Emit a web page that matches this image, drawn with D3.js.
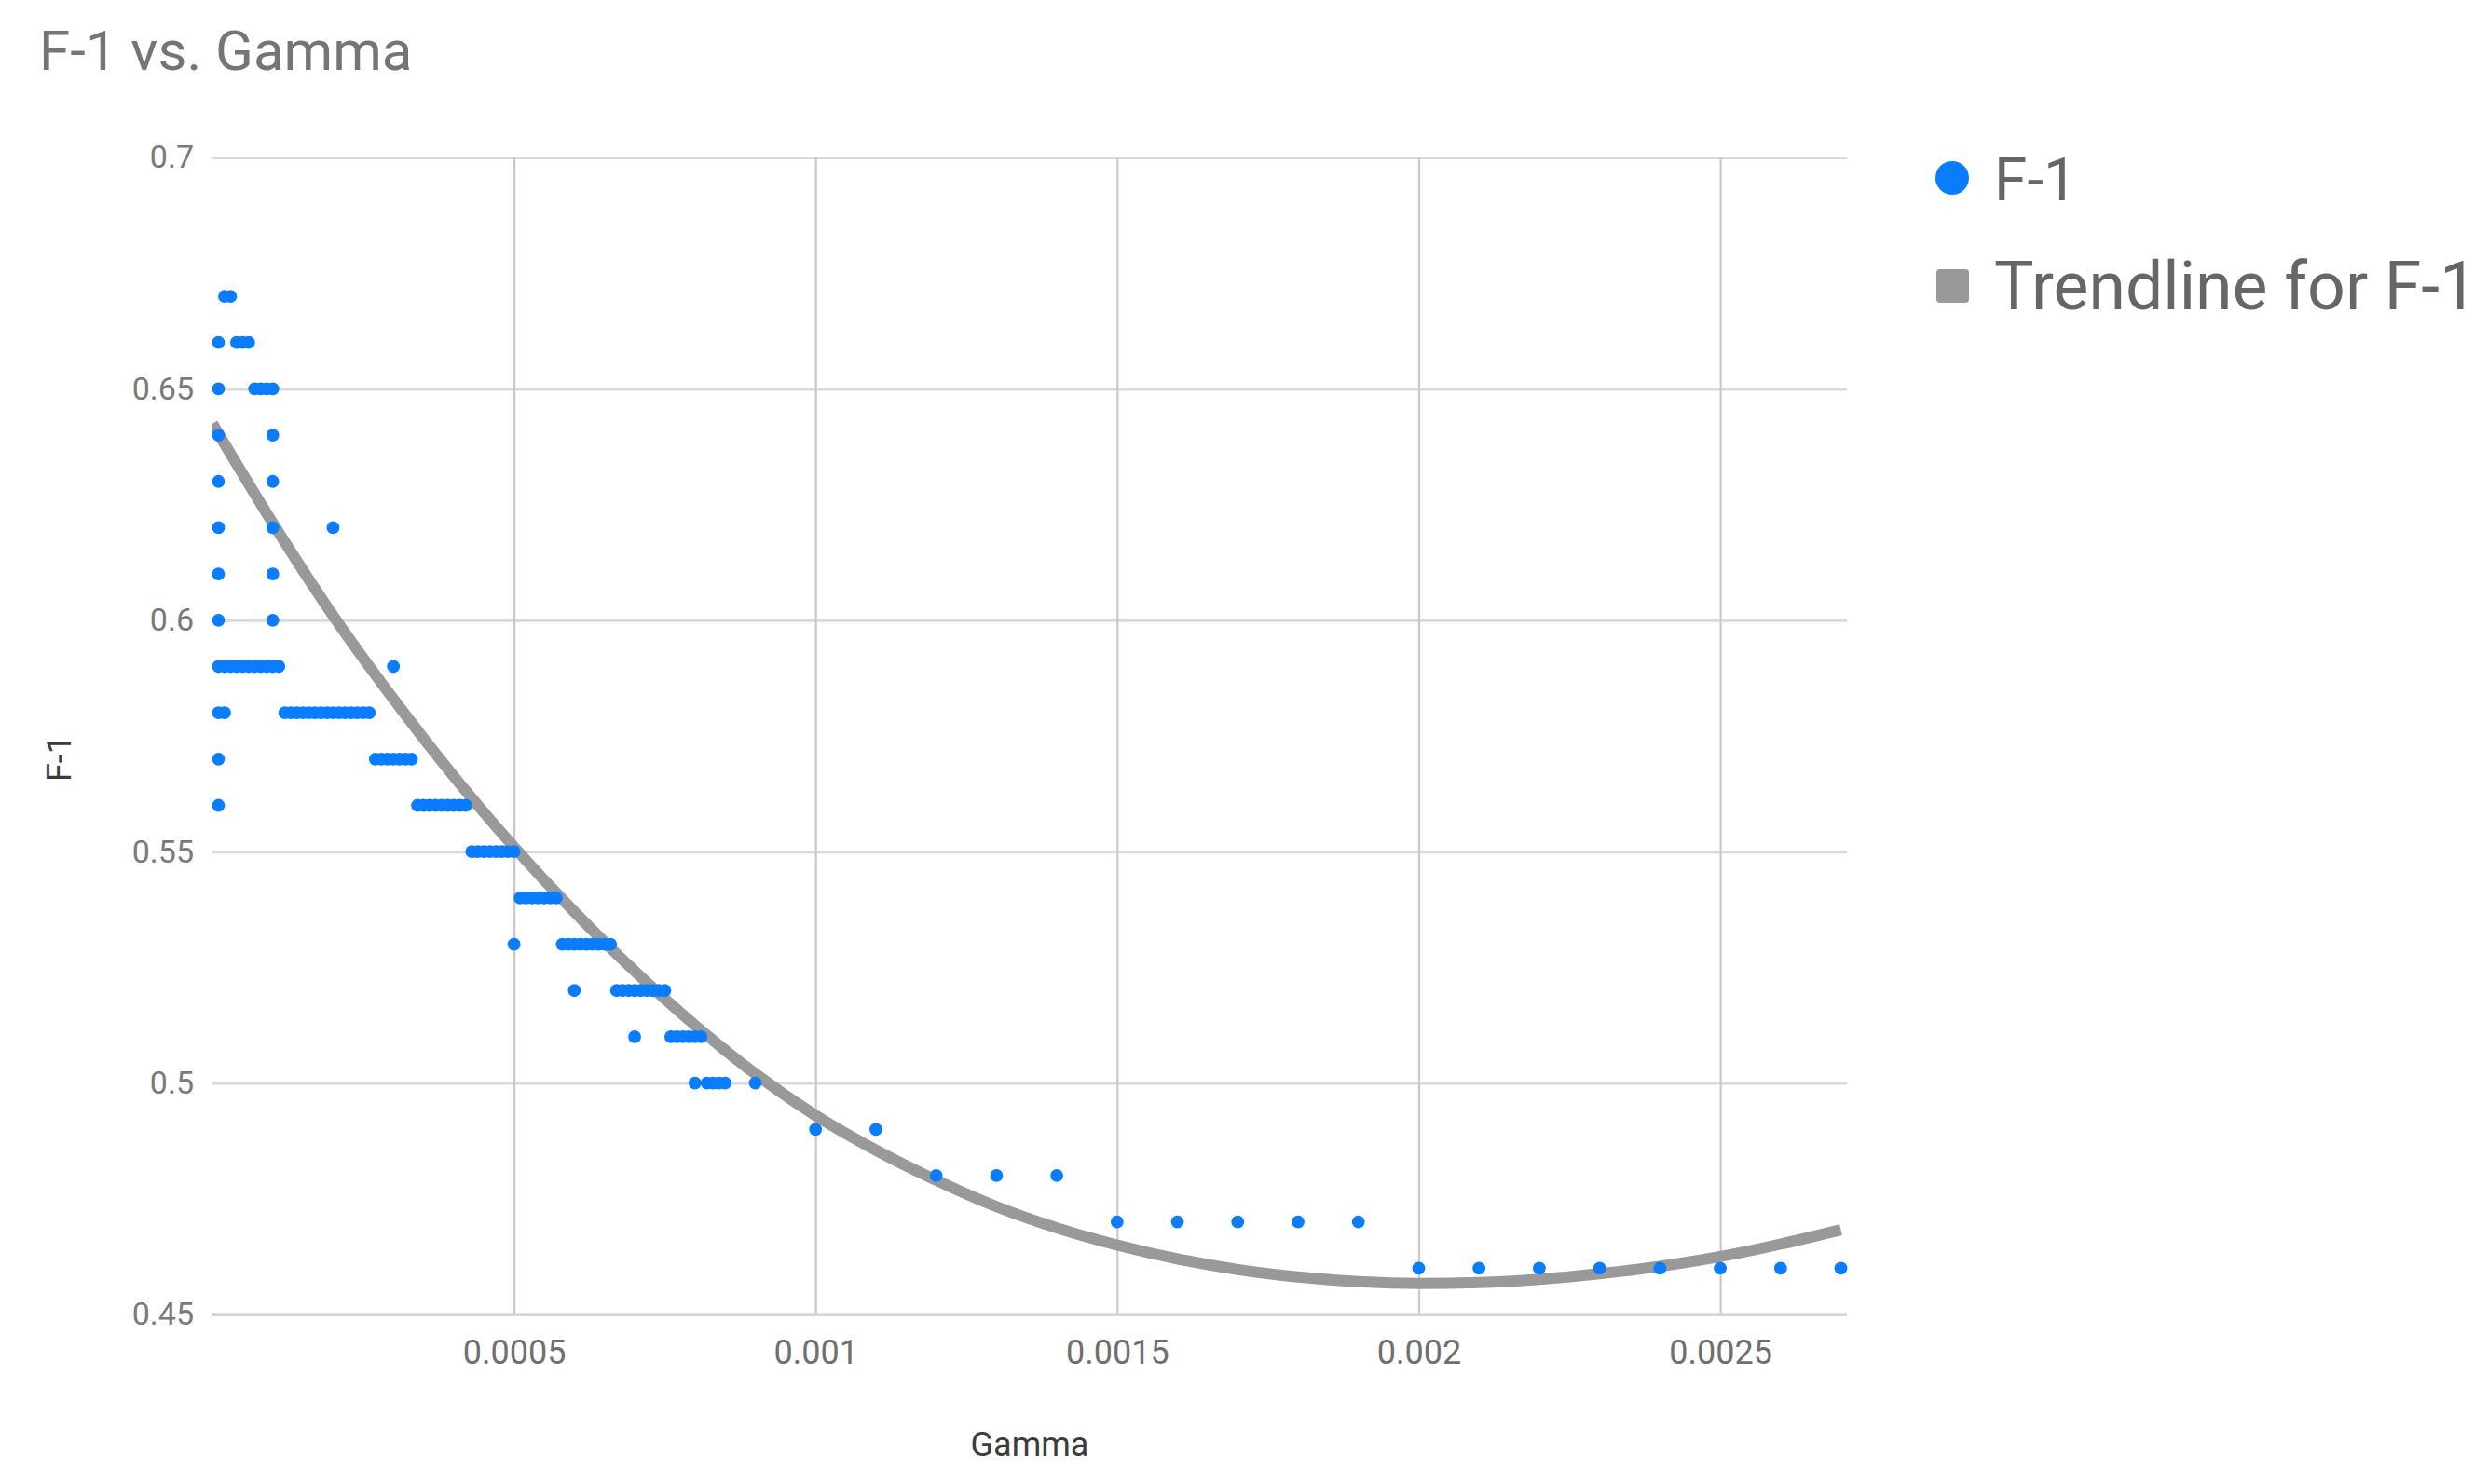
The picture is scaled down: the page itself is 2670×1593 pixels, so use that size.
<!DOCTYPE html>
<html>
<head>
<meta charset="utf-8">
<script src="https://cdn.jsdelivr.net/npm/d3@7"></script>
<style>
  html, body { margin: 0; padding: 0; background: #fff; }
  svg { display: block; font-family: Roboto, "Noto Sans", sans-serif; }
</style>
</head>
<body>
<script>
// ---------------- data ----------------
const chartTitle = "F-1 vs. Gamma";
const xAxisTitle = "Gamma";
const yAxisTitle = "F-1";
const seriesName = "F-1";
const trendName = "Trendline for F-1";

// F-1 levels (one row of points per level) and the Gamma values of the points on each row
const f1Levels = [0.67, 0.66, 0.65, 0.64, 0.63, 0.62, 0.61, 0.60, 0.59, 0.58, 0.57,
                  0.56, 0.55, 0.54, 0.53, 0.52, 0.51, 0.50, 0.49, 0.48, 0.47, 0.46];
const gammaRows = [
  [0.00002, 0.00003],
  [0.00001, 0.00004, 0.00005, 0.00006],
  [0.00001, 0.00007, 0.00008, 0.00009, 0.0001],
  [0.00001, 0.0001],
  [0.00001, 0.0001],
  [0.00001, 0.0001, 0.0002],
  [0.00001, 0.0001],
  [0.00001, 0.0001],
  [0.00001, 0.00002, 0.00003, 0.00004, 0.00005, 0.00006, 0.00007, 0.00008, 0.00009, 0.0001, 0.00011, 0.0003],
  [0.00001, 0.00002, 0.00012, 0.00013, 0.00014, 0.00015, 0.00016, 0.00017, 0.00018, 0.00019, 0.0002,
   0.00021, 0.00022, 0.00023, 0.00024, 0.00025, 0.00026],
  [0.00001, 0.00027, 0.00028, 0.00029, 0.0003, 0.00031, 0.00032, 0.00033],
  [0.00001, 0.00034, 0.00035, 0.00036, 0.00037, 0.00038, 0.00039, 0.0004, 0.00041, 0.00042],
  [0.00043, 0.00044, 0.00045, 0.00046, 0.00047, 0.00048, 0.00049, 0.0005],
  [0.00051, 0.00052, 0.00053, 0.00054, 0.00055, 0.00056, 0.00057],
  [0.0005, 0.00058, 0.00059, 0.0006, 0.00061, 0.00062, 0.00063, 0.00064, 0.00065, 0.00066],
  [0.0006, 0.00067, 0.00068, 0.00069, 0.0007, 0.00071, 0.00072, 0.00073, 0.00074, 0.00075],
  [0.0007, 0.00076, 0.00077, 0.00078, 0.00079, 0.0008, 0.00081],
  [0.0008, 0.00082, 0.00083, 0.00084, 0.00085, 0.0009],
  [0.001, 0.0011],
  [0.0012, 0.0013, 0.0014],
  [0.0015, 0.0016, 0.0017, 0.0018, 0.0019],
  [0.002, 0.0021, 0.0022, 0.0023, 0.0024, 0.0025, 0.0026, 0.0027]
];

// trendline
const trendGamma = [0, 0.0001, 0.0002, 0.0003, 0.0004, 0.0005, 0.0006, 0.0007, 0.0008, 0.0009,
                    0.001, 0.0011, 0.0012, 0.0013, 0.0014, 0.0015, 0.0016, 0.0017, 0.0018, 0.0019,
                    0.002, 0.0021, 0.0022, 0.0023, 0.0024, 0.0025, 0.0026, 0.0027];
const trendF1 = [0.6425, 0.621, 0.601, 0.583, 0.5663, 0.551, 0.537, 0.5242, 0.5125, 0.502,
                 0.493, 0.4855, 0.479, 0.4733, 0.4687, 0.465, 0.462, 0.4597, 0.4581, 0.4571,
                 0.4567, 0.4569, 0.4576, 0.4588, 0.4604, 0.4625, 0.4652, 0.4683];

const xTickValues = [0.0005, 0.001, 0.0015, 0.002, 0.0025];
const xTickLabels = ["0.0005", "0.001", "0.0015", "0.002", "0.0025"];
const yTickValues = [0.45, 0.5, 0.55, 0.6, 0.65, 0.7];
const yTickLabels = ["0.45", "0.5", "0.55", "0.6", "0.65", "0.7"];

// ---------------- layout ----------------
const W = 2670, H = 1593;
const plot = { left: 228, right: 1982, top: 169, bottom: 1411 };
const dotColor = "#0a7cff";
const trendColor = "#999999";

const svg = d3.select("body").append("svg").attr("width", W).attr("height", H);

const x = d3.scaleLinear().domain([0, 0.00271]).range([plot.left, plot.right]);
const y = d3.scaleLinear().domain([0.45, 0.7]).range([plot.bottom, plot.top]);

// title
svg.append("text")
  .attr("x", 42).attr("y", 75)
  .attr("font-size", 60).attr("fill", "#757575")
  .text(chartTitle);

// horizontal gridlines + y tick labels
const yAxis = d3.axisLeft(y)
  .tickValues(yTickValues)
  .tickFormat((d, i) => yTickLabels[i])
  .tickSize(-(plot.right - plot.left))
  .tickPadding(20);
const gy = svg.append("g").attr("transform", `translate(${plot.left},0)`).call(yAxis);
gy.select(".domain").remove();
gy.selectAll(".tick line").attr("stroke", "#dadada").attr("stroke-width", 3);
gy.selectAll(".tick text").attr("font-size", 34).attr("fill", "#7a7a7a")
  .attr("font-family", "Roboto, sans-serif");

// vertical gridlines + x tick labels
const xAxis = d3.axisBottom(x)
  .tickValues(xTickValues)
  .tickFormat((d, i) => xTickLabels[i])
  .tickSize(-(plot.bottom - plot.top))
  .tickPadding(27);
const gx = svg.append("g").attr("transform", `translate(0,${plot.bottom})`).call(xAxis);
gx.select(".domain").remove();
gx.selectAll(".tick line").attr("stroke", "#c9c9c9").attr("stroke-width", 2.2);
gx.selectAll(".tick text").attr("font-size", 36).attr("fill", "#6f6f6f")
  .attr("font-family", "Roboto, sans-serif");

// baseline (0.45) drawn over the vertical gridlines
svg.append("line")
  .attr("x1", plot.left).attr("x2", plot.right)
  .attr("y1", y(0.45)).attr("y2", y(0.45))
  .attr("stroke", "#d4d4d4").attr("stroke-width", 3.5);

// axis titles
svg.append("text")
  .attr("x", (plot.left + plot.right) / 2).attr("y", 1563)
  .attr("text-anchor", "middle").attr("font-size", 36).attr("fill", "#3c3c3c")
  .text(xAxisTitle);
svg.append("text")
  .attr("transform", `translate(76,814) rotate(-90)`)
  .attr("text-anchor", "middle").attr("font-size", 36).attr("fill", "#3c3c3c")
  .text(yAxisTitle);

// clip
svg.append("clipPath").attr("id", "plotClip")
  .append("rect").attr("x", plot.left).attr("y", plot.top - 20)
  .attr("width", plot.right - plot.left).attr("height", plot.bottom - plot.top + 20);

// trendline
const trendData = trendGamma.map((g, i) => ({ g, v: trendF1[i] }));
const trendLine = d3.line()
  .x(d => x(d.g))
  .y(d => y(d.v))
  .curve(d3.curveMonotoneX);
svg.append("path")
  .datum(trendData)
  .attr("clip-path", "url(#plotClip)")
  .attr("fill", "none")
  .attr("stroke", trendColor)
  .attr("stroke-width", 12)
  .attr("d", trendLine);

// points
const points = f1Levels.flatMap((v, i) => gammaRows[i].map(g => ({ g, v })));
svg.append("g")
  .selectAll("circle")
  .data(points)
  .join("circle")
  .attr("cx", d => x(d.g))
  .attr("cy", d => y(d.v))
  .attr("r", 6.9)
  .attr("fill", dotColor);

// legend
const lg = svg.append("g");
lg.append("circle").attr("cx", 2095).attr("cy", 191).attr("r", 18).attr("fill", dotColor);
lg.append("text").attr("x", 2140).attr("y", 215).attr("font-size", 64).attr("fill", "#666")
  .text(seriesName);
lg.append("rect").attr("x", 2078).attr("y", 289).attr("width", 35).attr("height", 36)
  .attr("rx", 4).attr("fill", trendColor);
lg.append("text").attr("x", 2140).attr("y", 332).attr("font-size", 71.5).attr("fill", "#666")
  .text(trendName);
</script>
</body>
</html>
